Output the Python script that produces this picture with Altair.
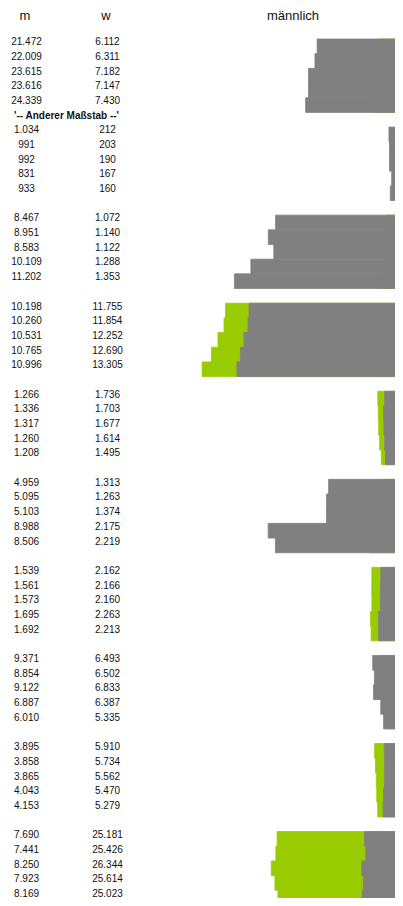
import altair as alt
import pandas as pd

# values (m = männlich, w = weiblich), 10 groups of 5 rows
m_values = [
    [21472, 22009, 23615, 23616, 24339],
    [1034, 991, 992, 831, 933],
    [8467, 8951, 8583, 10109, 11202],
    [10198, 10260, 10531, 10765, 10996],
    [1266, 1336, 1317, 1260, 1208],
    [4959, 5095, 5103, 8988, 8506],
    [1539, 1561, 1573, 1695, 1692],
    [9371, 8854, 9122, 6887, 6010],
    [3895, 3858, 3865, 4043, 4153],
    [7690, 7441, 8250, 7923, 8169],
]
w_values = [
    [6112, 6311, 7182, 7147, 7430],
    [212, 203, 190, 167, 160],
    [1072, 1140, 1122, 1288, 1353],
    [11755, 11854, 12252, 12690, 13305],
    [1736, 1703, 1677, 1614, 1495],
    [1313, 1263, 1374, 2175, 2219],
    [2162, 2166, 2160, 2263, 2213],
    [6493, 6502, 6833, 6387, 5335],
    [5910, 5734, 5562, 5470, 5279],
    [25181, 25426, 26344, 25614, 25023],
]
# value that spans the full bar area in each group (each group has its own scale)
group_full_scale = [55250, 16250, 14685, 14636, 15240, 14733, 15350, 68420, 46040, 44200]
headers = ["m", "w", "männlich"]
scale_note = "'-- Anderer Maßstab --'"
note_slot = 5


def de(v):
    return f"{v:,}".replace(",", ".")


rows = []
for g, (ms, ws) in enumerate(zip(m_values, w_values)):
    for r, (mv, wv) in enumerate(zip(ms, ws)):
        slot = g * 6 + r
        rows.append({"slot": slot, "slot_end": slot + 1, "m": mv, "w": wv,
                     "full": group_full_scale[g], "m_lbl": de(mv), "w_lbl": de(wv)})
df = pd.DataFrame(rows)

FONT = "Liberation Sans"
GRAY = "#808080"
GREEN = "#99cc00"
W, H = 387, 890          # page must stay within 403 x 906 (8px body margin)
RIGHT = 395              # bars are anchored at the window's right edge (clipped)

base = alt.Chart(df).transform_calculate(
    m_norm="datum.m / datum.full", w_norm="datum.w / datum.full", zero="0"
)
ybar = alt.Y("slot:Q", scale=alt.Scale(domain=[0, 59], range=[31, 897]), axis=None)
y2bar = alt.Y2("slot_end:Q")
xscale = alt.Scale(domain=[0, 1], range=[RIGHT, RIGHT - 221])

green = base.mark_rect(color=GREEN, stroke=GREEN, strokeWidth=0.8, opacity=1,
                       fillOpacity=1, clip=True).encode(
    x=alt.X("w_norm:Q", scale=xscale, axis=None), x2=alt.X2("zero:Q"), y=ybar, y2=y2bar
)
gray = base.mark_rect(color=GRAY, stroke=GRAY, strokeWidth=0.8, opacity=1,
                      fillOpacity=1, clip=True).encode(
    x=alt.X("m_norm:Q", scale=xscale, axis=None), x2=alt.X2("zero:Q"), y=ybar, y2=y2bar
)

ytext = alt.Y("slot:Q", scale=alt.Scale(domain=[0, 58], range=[37.2, 889]), axis=None)
txt = dict(align="center", baseline="alphabetic", font=FONT, fontSize=10, color="#111111")
mtext = alt.Chart(df).mark_text(**txt).encode(x=alt.value(18.5), y=ytext, text="m_lbl:N")
wtext = alt.Chart(df).mark_text(**txt).encode(x=alt.value(99.5), y=ytext, text="w_lbl:N")

note = alt.Chart(pd.DataFrame({"slot": [note_slot], "t": [scale_note]})).mark_text(
    align="center", baseline="alphabetic", font=FONT, fontSize=10, fontWeight="bold", color="#111111"
).encode(x=alt.value(58.5), y=ytext, text="t:N")

hdr = dict(align="center", baseline="alphabetic", font=FONT, fontSize=13, color="#111111")
h1 = alt.Chart(pd.DataFrame({"h": [headers[0]]})).mark_text(**hdr).encode(
    x=alt.value(17), y=alt.value(12), text="h:N")
h2 = alt.Chart(pd.DataFrame({"h": [headers[1]]})).mark_text(**hdr).encode(
    x=alt.value(98), y=alt.value(12), text="h:N")
h3 = alt.Chart(pd.DataFrame({"h": [headers[2]]})).mark_text(**hdr).encode(
    x=alt.value(285), y=alt.value(12), text="h:N")

chart = alt.layer(green, gray, mtext, wtext, note, h1, h2, h3).resolve_scale(
    x="independent", y="independent"
).properties(
    width=W, height=H, padding=0, autosize="none"
).configure_view(strokeWidth=0)

chart.save("out.html", embed_options={"renderer": "svg", "actions": False})
